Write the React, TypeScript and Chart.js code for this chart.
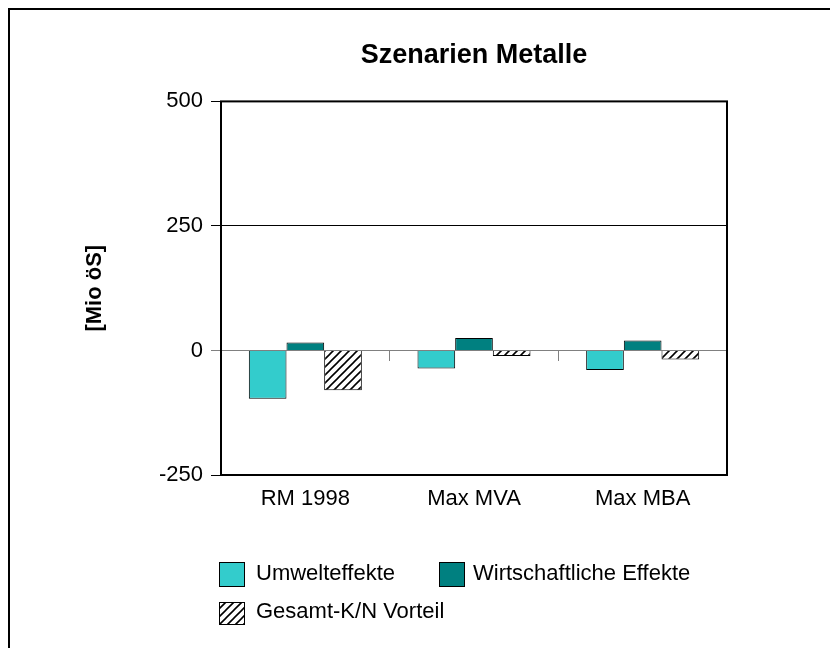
import React, { useEffect, useRef } from 'react';
import { Chart, registerables } from 'chart.js';

Chart.register(...registerables);

const categories: string[] = ['RM 1998', 'Max MVA', 'Max MBA'];
const seriesNames: string[] = ['Umwelteffekte', 'Wirtschaftliche Effekte', 'Gesamt-K/N Vorteil'];
const umweltValues: number[] = [-97, -36, -39];
const wirtschaftValues: number[] = [16, 25, 20];
const gesamtValues: number[] = [-80, -11, -18];
const yTickValues: number[] = [-250, 0, 250, 500];
const chartTitle = 'Szenarien Metalle';
const yAxisTitle = '[Mio öS]';

const FONT = '"Liberation Sans", Arial, Helvetica, sans-serif';

function makeHatch(): CanvasPattern | string {
  const c = document.createElement('canvas');
  c.width = 8;
  c.height = 8;
  const g = c.getContext('2d');
  if (!g) return '#fff';
  g.fillStyle = '#fff';
  g.fillRect(0, 0, 8, 8);
  g.strokeStyle = '#000';
  g.lineWidth = 1.6;
  g.beginPath();
  g.moveTo(0, 8);
  g.lineTo(8, 0);
  g.moveTo(-2, 2);
  g.lineTo(2, -2);
  g.moveTo(6, 10);
  g.lineTo(10, 6);
  g.stroke();
  const p = g.createPattern(c, 'repeat');
  return p || '#fff';
}

const plotBorder = {
  id: 'plotBorder',
  afterDraw(chart: any) {
    const { ctx, chartArea } = chart;
    ctx.save();
    ctx.strokeStyle = '#000';
    ctx.lineWidth = 2;
    ctx.strokeRect(chartArea.left, chartArea.top, chartArea.right - chartArea.left, chartArea.bottom - chartArea.top);
    ctx.restore();
  },
};

const customLegend = {
  id: 'customLegend',
  afterDraw(chart: any) {
    const { ctx } = chart;
    const ds = chart.data.datasets;
    const slots = [
      { sx: 209, sy: 552, sw: 26, sh: 25, tx: 246, ty: 564 },
      { sx: 429, sy: 552, sw: 26, sh: 25, tx: 463, ty: 564 },
      { sx: 209, sy: 592, sw: 26, sh: 23, tx: 246, ty: 602 },
    ];
    ctx.save();
    ds.forEach((d: any, i: number) => {
      const s = slots[i];
      if (!s) return;
      ctx.fillStyle = d.backgroundColor;
      ctx.fillRect(s.sx, s.sy, s.sw, s.sh);
      ctx.strokeStyle = '#000';
      ctx.lineWidth = 1;
      ctx.strokeRect(s.sx + 0.5, s.sy + 0.5, s.sw - 1, s.sh - 1);
      ctx.fillStyle = '#000';
      ctx.font = `22px ${FONT}`;
      ctx.textAlign = 'left';
      ctx.textBaseline = 'middle';
      ctx.fillText(d.label, s.tx, s.ty);
    });
    ctx.restore();
  },
};

export default function App() {
  const ref = useRef<HTMLCanvasElement | null>(null);

  useEffect(() => {
    if (!ref.current) return;
    const hatch = makeHatch();
    const chart = new Chart(ref.current, {
      type: 'bar',
      data: {
        labels: categories,
        datasets: [
          {
            label: seriesNames[0],
            data: umweltValues,
            backgroundColor: '#33CCCC',
            borderColor: '#000',
            borderWidth: 1,
            xAxisID: 'x',
            yAxisID: 'y',
          },
          {
            label: seriesNames[1],
            data: wirtschaftValues,
            backgroundColor: '#008080',
            borderColor: '#000',
            borderWidth: 1,
            xAxisID: 'x',
            yAxisID: 'y',
          },
          {
            label: seriesNames[2],
            data: gesamtValues,
            backgroundColor: hatch as any,
            borderColor: '#000',
            borderWidth: 1,
            xAxisID: 'x',
            yAxisID: 'y',
          },
        ],
      },
      options: {
        responsive: false,
        animation: false,
        events: [],
        layout: { padding: { top: 10, right: 95, bottom: 118, left: 0 } },
        datasets: {
          bar: { categoryPercentage: 0.67, barPercentage: 1 },
        },
        plugins: {
          legend: { display: false },
          tooltip: { enabled: false },
          title: {
            display: true,
            text: chartTitle,
            fullSize: false,
            color: '#000',
            font: { family: FONT, size: 27, weight: 'bold' },
            padding: { top: 19, bottom: 30 },
          },
        },
        scales: {
          x: {
            type: 'category',
            position: 'bottom',
            grid: { display: false, drawTicks: false },
            border: { display: false },
            ticks: { color: '#000', font: { family: FONT, size: 22 }, padding: 11, maxRotation: 0 },
            afterFit: (s: any) => {
              s.height = 45;
            },
          },
          xZero: {
            type: 'category',
            position: { y: 0 },
            offset: true,
            grid: {
              offset: true,
              drawOnChartArea: false,
              drawTicks: true,
              tickLength: 10,
              color: '#808080',
              lineWidth: 1,
            },
            border: { display: true, color: '#808080', width: 1 },
            ticks: { display: false },
          },
          y: {
            type: 'linear',
            min: yTickValues[0],
            max: yTickValues[yTickValues.length - 1],
            afterBuildTicks: (s: any) => {
              s.ticks = yTickValues.map((v) => ({ value: v }));
            },
            ticks: { color: '#000', font: { family: FONT, size: 22 }, padding: 8 },
            grid: {
              color: (c: any) => (c.tick && c.tick.value === 0 ? 'rgba(0,0,0,0)' : '#000'),
              tickColor: (c: any) => (c.tick && c.tick.value === 0 ? '#808080' : '#000'),
              lineWidth: 1,
              tickLength: 10,
            },
            border: { display: false },
            title: {
              display: true,
              text: yAxisTitle,
              color: '#000',
              font: { family: FONT, size: 22, weight: 'bold' },
              padding: { top: 72, bottom: 0 },
            },
            afterFit: (s: any) => {
              s.width = 211;
            },
          },
        },
      } as any,
      plugins: [plotBorder, customLegend],
    });
    return () => chart.destroy();
  }, []);

  return (
    <div
      style={{
        position: 'fixed',
        left: 8,
        top: 8,
        width: 820,
        height: 640,
        borderLeft: '2px solid #000',
        borderTop: '2px solid #000',
        background: '#fff',
        overflow: 'hidden',
      }}
    >
      <canvas ref={ref} width={812} height={628} style={{ display: 'block' }} />
    </div>
  );
}
